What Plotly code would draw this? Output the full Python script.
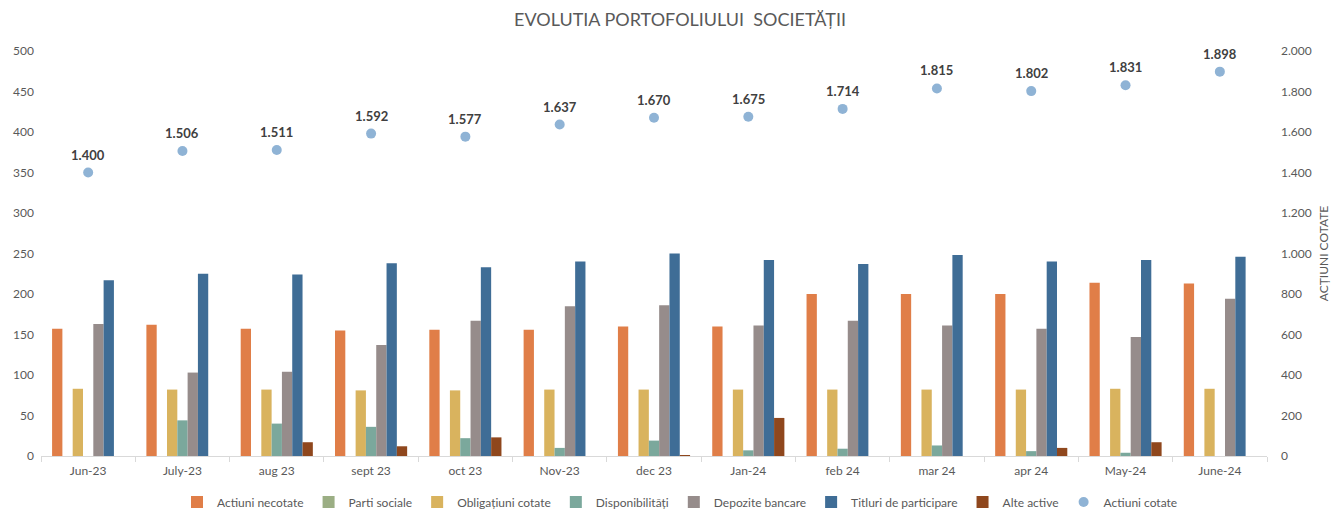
import plotly.graph_objects as go

months = ["Jun-23", "July-23", "aug 23", "sept 23", "oct 23", "Nov-23", "dec 23",
          "Jan-24", "feb 24", "mar 24", "apr 24", "May-24", "June-24"]

actiuni_necotate = [157, 162, 157, 155, 156, 156, 160, 160, 200, 200, 200, 214, 213]
parti_sociale = [0, 0, 0, 0, 0, 0, 0, 0, 0, 0, 0, 0, 0]
obligatiuni_cotate = [83, 82, 82, 81, 81, 82, 82, 82, 82, 82, 82, 83, 83]
disponibilitati = [0, 44, 40, 36, 22, 10, 19, 7, 9, 13, 6, 4, 0]
depozite_bancare = [163, 103, 104, 137, 167, 185, 186, 161, 167, 161, 157, 147, 194]
titluri_participare = [217, 225, 224, 238, 233, 240, 250, 242, 237, 248, 240, 242, 246]
alte_active = [0, 0, 17, 12, 23, 0, 1, 47, 0, 0, 10, 17, 0]
actiuni_cotate = [1400, 1506, 1511, 1592, 1577, 1637, 1670, 1675, 1714, 1815, 1802, 1831, 1898]

bar_series = [
    ("Actiuni necotate", actiuni_necotate, "#E07E48"),
    ("Parti sociale", parti_sociale, "#9BAE84"),
    ("Obligațiuni cotate", obligatiuni_cotate, "#D9B35E"),
    ("Disponibilități", disponibilitati, "#7BA89C"),
    ("Depozite bancare", depozite_bancare, "#968C8B"),
    ("Titluri de participare", titluri_participare, "#3F6D96"),
    ("Alte active", alte_active, "#8F471D"),
]

FONT = "Lato, 'Open Sans', sans-serif"
GREY = "#595959"

fig = go.Figure()
for name, vals, color in bar_series:
    fig.add_trace(go.Bar(x=months, y=vals, name=name, marker_color=color,
                         marker_line_width=0))

fig.add_trace(go.Scatter(
    x=months, y=actiuni_cotate, name="Actiuni cotate", yaxis="y2",
    mode="markers", marker=dict(color="#8FB3D5", size=10),
))

# data labels above the dots
for m, v in zip(months, actiuni_cotate):
    fig.add_annotation(x=m, y=v, yref="y2", text=f"{v:,}".replace(",", "."),
                       showarrow=False, yshift=18,
                       font=dict(family=FONT, size=13, color="#404040", weight="bold"))

# page body has an 8px margin, so the figure is offset accordingly
fig.update_layout(
    title=dict(text="EVOLUTIA PORTOFOLIULUI  SOCIETĂȚII", x=0.5, xanchor="center",
               y=0.977, yanchor="middle", font=dict(family=FONT, size=18, color=GREY)),
    barmode="group",
    bargap=0.235,
    bargroupgap=0,
    separators=",.",
    plot_bgcolor="white",
    paper_bgcolor="white",
    font=dict(family=FONT, size=12, color=GREY),
    margin=dict(l=33, r=85, t=43, b=64, autoexpand=False),
    width=1344, height=512,
    showlegend=True,
    legend=dict(orientation="h", x=0.5, xanchor="center", xref="container",
                y=0.035, yanchor="middle", yref="container",
                font=dict(size=12, color=GREY), itemwidth=30, tracegroupgap=0),
    xaxis=dict(range=[-0.5, 12.5], showgrid=False, showline=True, linecolor="#D9D9D9",
               ticks="outside", tickson="boundaries", tickcolor="#D9D9D9", ticklen=5,
               ticklabelstandoff=4, automargin=False, tickfont=dict(size=12, color=GREY)),
    yaxis=dict(range=[0, 500], dtick=50, showgrid=False, zeroline=False, automargin=False,
               ticklabelstandoff=6, tickfont=dict(size=12, color=GREY)),
    yaxis2=dict(range=[0, 2000], dtick=200, overlaying="y", side="right", automargin=False,
                showgrid=False, zeroline=False, tickformat=",d", ticklabelstandoff=13,
                title=dict(text="ACȚIUNI COTATE", font=dict(size=12, color=GREY), standoff=8),
                tickfont=dict(size=12, color=GREY)),
)

fig.write_html("out.html")
